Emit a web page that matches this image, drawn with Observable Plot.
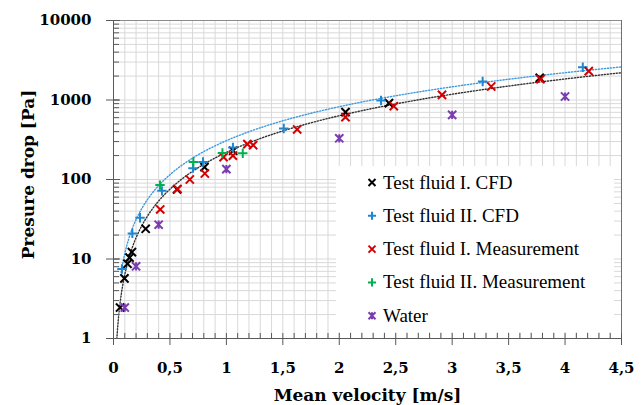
<!DOCTYPE html>
<html>
<head>
<meta charset="utf-8">
<script src="https://cdn.jsdelivr.net/npm/d3@7"></script>
<script src="https://cdn.jsdelivr.net/npm/@observablehq/plot@0.6"></script>
<style>
  html, body { margin: 0; padding: 0; background: #fff; }
  #chart { width: 644px; height: 405px; }
</style>
</head>
<body>
<div id="chart"></div>
<script>
// Mean velocity [m/s] and pressure drop [Pa] for each series
const fluid1CfdV = [0.058, 0.097, 0.124, 0.142, 0.163, 0.285, 0.563, 0.806, 1.06, 2.055, 2.44, 3.776];
const fluid1CfdP = [2.45, 5.7, 8.7, 10.4, 12.2, 24, 75, 143, 230, 703, 912, 1902];

const fluid2CfdV = [0.075, 0.167, 0.235, 0.429, 0.704, 0.793, 1.058, 1.508, 2.37, 3.27, 4.157];
const fluid2CfdP = [7.5, 21, 33, 72, 139, 166, 252, 438, 986, 1710, 2586];

const fluid1MeasV = [0.414, 0.567, 0.676, 0.809, 0.975, 1.058, 1.186, 1.237, 1.627, 2.055, 2.483, 2.91, 3.346, 3.782, 4.21];
const fluid1MeasP = [42, 76, 100, 119, 191, 200, 279, 271, 426, 608, 836, 1161, 1479, 1828, 2306];

const fluid2MeasV = [0.412, 0.708, 0.965, 1.145];
const fluid2MeasP = [85, 166, 216, 214];

const waterV = [0.1, 0.2, 0.4, 1, 2, 3, 4];
const waterP = [2.45, 8.1, 27, 135, 330, 651, 1107];

const seriesNames = [
  "Test fluid I. CFD",
  "Test fluid II. CFD",
  "Test fluid I. Measurement",
  "Test fluid II. Measurement",
  "Water"
];

// Axis ticks
const xTicks = [0, 0.5, 1, 1.5, 2, 2.5, 3, 3.5, 4, 4.5];
const yTicks = [1, 10, 100, 1000, 10000];

// Power-law trend lines p = a·v^b for the two CFD series, and their velocity spans
const trend1Coef = {a: 219, b: 1.535};
const trend2Coef = {a: 308, b: 1.42};
const trend1Range = [0.025, 4.5];
const trend2Range = [0.068, 4.5];

// Minor grid: every 0.1 m/s, and 1..9 within each decade
const xMinor = d3.range(0, 46).map(i => i / 10);
const yMinor = d3.range(0, 4).flatMap(k => d3.range(1, 10).map(m => m * Math.pow(10, k))).concat([10000]);

// Stroke-only marker shapes
const symTimes = {draw(ctx, size) { const r = Math.sqrt(size / Math.PI);
  ctx.moveTo(-r, -r); ctx.lineTo(r, r); ctx.moveTo(r, -r); ctx.lineTo(-r, r); }};
const symPlus = {draw(ctx, size) { const r = Math.sqrt(size / Math.PI) * 1.15;
  ctx.moveTo(-r, 0); ctx.lineTo(r, 0); ctx.moveTo(0, -r); ctx.lineTo(0, r); }};
const symStar = {draw(ctx, size) { const r = Math.sqrt(size / Math.PI);
  ctx.moveTo(-r, -r); ctx.lineTo(r, r); ctx.moveTo(r, -r); ctx.lineTo(-r, r);
  ctx.moveTo(0, -r); ctx.lineTo(0, r); }};

const zip = (vs, ps) => vs.map((v, i) => ({v, p: ps[i]}));

const series = [
  {name: seriesNames[0], data: zip(fluid1CfdV, fluid1CfdP), color: "#000000", symbol: symTimes},
  {name: seriesNames[1], data: zip(fluid2CfdV, fluid2CfdP), color: "#1f86d0", symbol: symPlus},
  {name: seriesNames[2], data: zip(fluid1MeasV, fluid1MeasP), color: "#d40000", symbol: symTimes},
  {name: seriesNames[3], data: zip(fluid2MeasV, fluid2MeasP), color: "#00b050", symbol: symPlus},
  {name: seriesNames[4], data: zip(waterV, waterP), color: "#7a3db0", symbol: symStar}
];

function sampleCurve({a, b}, [v0, v1]) {
  return d3.range(0, 301).map(i => { const v = v0 * Math.pow(v1 / v0, i / 300); return {v, p: a * Math.pow(v, b)}; });
}
const trend1 = sampleCurve(trend1Coef, trend1Range);
const trend2 = sampleCurve(trend2Coef, trend2Range);

// Pick an installed serif face for the legend and size it so the longest entry spans ~204px
const measureCtx = document.createElement("canvas").getContext("2d");
function hasFont(name) {
  const probe = "Test fluid II. Measurement";
  measureCtx.font = "40px monospace";
  const w0 = measureCtx.measureText(probe).width;
  measureCtx.font = `40px '${name}', monospace`;
  return measureCtx.measureText(probe).width !== w0;
}
const legendFont = ["Liberation Serif", "Tinos", "Times New Roman", "DejaVu Serif"].find(hasFont) || "serif";
measureCtx.font = `19px '${legendFont}'`;
const legendSize = Math.min(19, 19 * 204 / measureCtx.measureText(d3.greatest(seriesNames, d => d.length)).width);

const plot = Plot.plot({
  width: 644,
  height: 405,
  marginLeft: 113,
  marginRight: 23,
  marginTop: 20,
  marginBottom: 67,
  x: {domain: [0, 4.5]},
  y: {type: "log", domain: [1, 10000]},
  style: {fontFamily: "'DejaVu Serif', serif", background: "#fff", color: "#000"},
  marks: [
    Plot.gridX(xMinor, {stroke: "#d9d9d9", strokeOpacity: 1}),
    Plot.gridY(yMinor, {stroke: "#d9d9d9", strokeOpacity: 1}),
    Plot.ruleY([10000], {stroke: "#8c8c8c"}),
    Plot.ruleX([4.5], {stroke: "#6f6f6f"}),
    Plot.line(trend1, {x: "v", y: "p", stroke: "#333", strokeWidth: 1.4, strokeDasharray: "1.2,1.8", clip: true}),
    Plot.line(trend2, {x: "v", y: "p", stroke: "#3d9be0", strokeWidth: 1.4, strokeDasharray: "1.2,1.8", clip: true}),
    ...series.map(s => Plot.dot(s.data, {x: "v", y: "p", symbol: s.symbol, r: 4.1, stroke: s.color, strokeWidth: 2, fill: "none"})),
    Plot.tickX(xMinor, {x: d => d, insetTop: 313, stroke: "#595959"}),
    Plot.tickY(yMinor, {y: d => d, insetRight: 502, stroke: "#595959"}),
    Plot.tickY(yTicks, {y: d => d, insetRight: 501, stroke: "#595959"}),
    Plot.ruleX([0], {stroke: "#595959"}),
    Plot.ruleY([1], {stroke: "#595959"}),
    Plot.axisX(xTicks, {tickSize: 7, tickPadding: 17, stroke: "#595959", fontSize: 15, fontWeight: "bold",
      tickFormat: d => String(d).replace(".", ","), label: null}),
    Plot.axisY(yTicks, {tickSize: 7, tickPadding: 15, stroke: "#595959", fontSize: 15, fontWeight: "bold",
      tickFormat: d => String(d), label: null}),
    Plot.text(["Mean velocity [m/s]"], {frameAnchor: "bottom", dy: 62, lineAnchor: "bottom", textAnchor: "middle",
      fontSize: 17, fontWeight: "bold", fill: "#000"}),
    Plot.text(["Presure drop [Pa]"], {frameAnchor: "left", dx: -80, dy: -5, rotate: -90, lineAnchor: "bottom",
      textAnchor: "middle", fontSize: 17, fontWeight: "bold", fill: "#000"})
  ]
});

// Legend box in the lower-right part of the plot area
const legend = d3.select(plot).append("g").attr("class", "legend");
legend.append("rect")
  .attr("x", 336).attr("y", 166).attr("width", 278).attr("height", 166)
  .style("fill", "#ffffff").style("stroke", "none");
series.forEach((s, i) => {
  const cy = 182.5 + i * 33.3;
  legend.append("path")
    .attr("transform", `translate(372,${cy})`)
    .attr("d", d3.symbol(s.symbol, Math.PI * 3.5 * 3.5)())
    .style("fill", "none").style("stroke", s.color).style("stroke-width", 2);
  legend.append("text")
    .attr("x", 383).attr("y", cy + 6)
    .style("text-anchor", "start")
    .style("font-family", `'${legendFont}', serif`)
    .style("font-size", `${legendSize}px`)
    .style("fill", "#000")
    .text(s.name);
});

document.getElementById("chart").appendChild(plot);
</script>
</body>
</html>
